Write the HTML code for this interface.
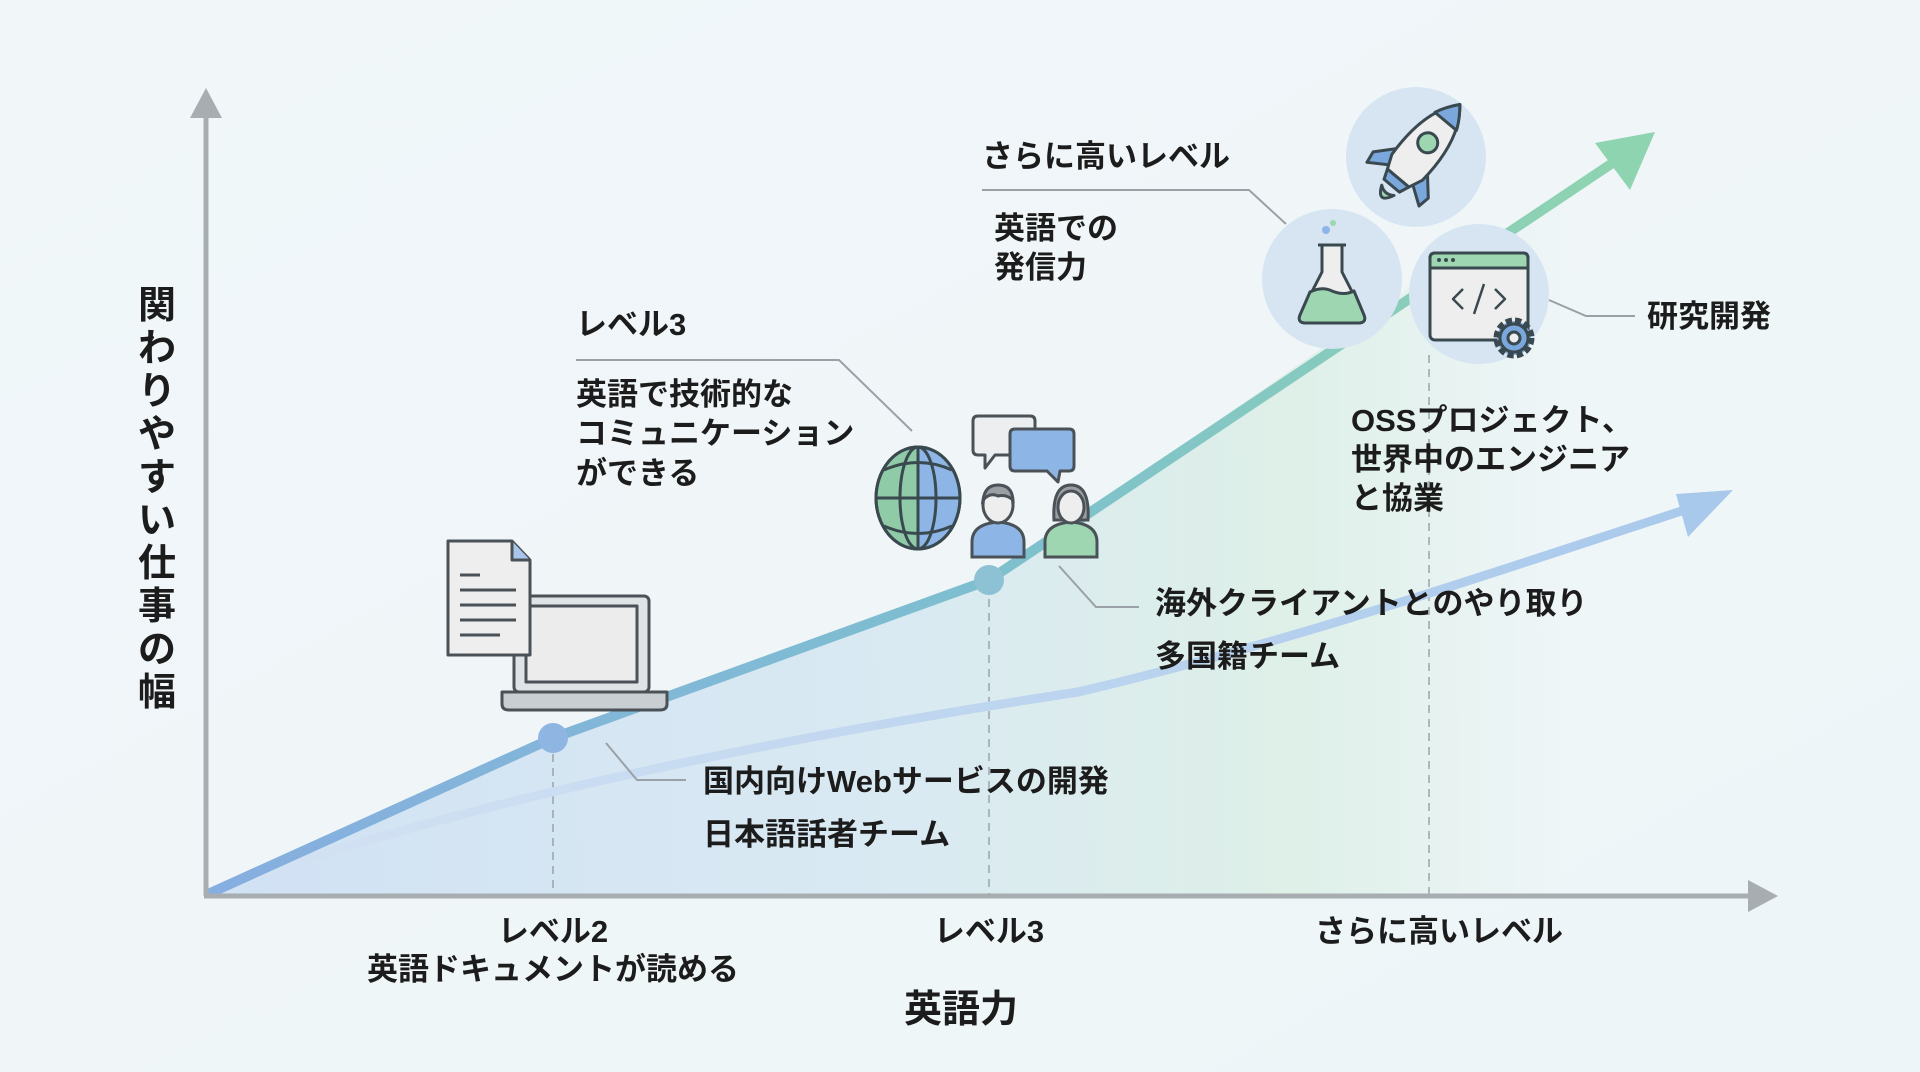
<!DOCTYPE html>
<html><head><meta charset="utf-8"><style>
html,body{margin:0;padding:0;background:#eef5f7;}
svg{display:block}
text{font-family:"Liberation Sans","Noto Sans CJK JP",sans-serif;font-weight:700;fill:#1c1c1c}
</style></head><body>
<svg width="1920" height="1072" viewBox="0 0 1920 1072" xmlns="http://www.w3.org/2000/svg">
<defs>
<linearGradient id="bg" x1="0" y1="0" x2="1" y2="1"><stop offset="0" stop-color="#f1f7f9"/><stop offset="1" stop-color="#eef5f8"/></linearGradient>
<linearGradient id="fill" x1="0" y1="0" x2="1" y2="0"><stop offset="0" stop-color="#cddff3"/><stop offset="0.5" stop-color="#d7e8f2"/><stop offset="0.8" stop-color="#dcefe6"/><stop offset="1" stop-color="#eef5f7"/></linearGradient>
<linearGradient id="main" x1="0" y1="0" x2="1" y2="0"><stop offset="0" stop-color="#86aee0"/><stop offset="0.55" stop-color="#7dbfcf"/><stop offset="1" stop-color="#8fd4b0"/></linearGradient>
<linearGradient id="sec" x1="0" y1="0" x2="1" y2="0"><stop offset="0" stop-color="#d5e3f3"/><stop offset="1" stop-color="#a9c9ec"/></linearGradient>
</defs>
<rect width="1920" height="1072" fill="url(#bg)"/>
<polygon points="208,894 553,738 989,580 1420,280 1560,200 1560,894" fill="url(#fill)" opacity="0.9"/>
<g stroke="#9aa4ab" stroke-width="1.5" stroke-dasharray="8,6">
<line x1="553" y1="740" x2="553" y2="894"/>
<line x1="989" y1="585" x2="989" y2="894"/>
<line x1="1429" y1="355" x2="1429" y2="894"/>
</g>
<path d="M208,894 C400,820 700,750 1078,692 C1300,640 1500,570 1700,505" fill="none" stroke="url(#sec)" stroke-width="9" stroke-linecap="round"/>
<polygon points="1733,490 1688,537 1676,494" fill="#a9c9ec"/>
<polyline points="208,894 553,738 989,580 1620,158" fill="none" stroke="url(#main)" stroke-width="10" stroke-linejoin="round"/>
<polygon points="1655,132 1595,143 1630,190" fill="#8fd4b0"/>
<circle cx="553" cy="738" r="15" fill="#8fb5e3"/>
<circle cx="989" cy="580" r="15" fill="#8cc2d4"/>
<line x1="206" y1="110" x2="206" y2="896" stroke="#a8adb2" stroke-width="5"/>
<polygon points="206,88 190,118 222,118" fill="#a8adb2"/>
<line x1="204" y1="896" x2="1752" y2="896" stroke="#a8adb2" stroke-width="5"/>
<polygon points="1778,896 1748,880 1748,912" fill="#a8adb2"/>
<g fill="none" stroke="#9aa1a6" stroke-width="2">
<polyline points="606,743 637,780 686,780"/>
<polyline points="1059,566 1096,607 1139,607"/>
<polyline points="576,360 839,360 912,431"/>
<polyline points="982,190 1249,190 1286,224"/>
<polyline points="1549,300 1586,316 1635,316"/>
</g>
<g font-size="38">
<text x="157" y="318" text-anchor="middle">関</text>
<text x="157" y="361" text-anchor="middle">わ</text>
<text x="157" y="404" text-anchor="middle">り</text>
<text x="157" y="447" text-anchor="middle">や</text>
<text x="157" y="490" text-anchor="middle">す</text>
<text x="157" y="533" text-anchor="middle">い</text>
<text x="157" y="576" text-anchor="middle">仕</text>
<text x="157" y="619" text-anchor="middle">事</text>
<text x="157" y="662" text-anchor="middle">の</text>
<text x="157" y="705" text-anchor="middle">幅</text>
</g>
<g font-size="31" text-anchor="middle">
<text x="553" y="942">レベル2</text>
<text x="553" y="980">英語ドキュメントが読める</text>
<text x="989" y="942">レベル3</text>
<text x="1439" y="942">さらに高いレベル</text>
</g>
<text x="961" y="1022" font-size="38" text-anchor="middle">英語力</text>
<g font-size="31">
<text x="703" y="792">国内向けWebサービスの開発</text>
<text x="703" y="845">日本語話者チーム</text>
<text x="1155" y="614">海外クライアントとのやり取り</text>
<text x="1155" y="667">多国籍チーム</text>
<text x="576" y="335">レベル3</text>
<text x="576" y="405">英語で技術的な</text>
<text x="576" y="444">コミュニケーション</text>
<text x="576" y="484">ができる</text>
<text x="982" y="167">さらに高いレベル</text>
<text x="994" y="239">英語での</text>
<text x="994" y="278">発信力</text>
<text x="1647" y="327">研究開発</text>
<text x="1351" y="431">OSSプロジェクト、</text>
<text x="1351" y="470">世界中のエンジニア</text>
<text x="1351" y="509">と協業</text>
</g>
<g stroke="#4a5258" stroke-width="3" stroke-linejoin="round">
<rect x="514" y="596" width="135" height="96" rx="5" fill="#dfe3e6"/>
<rect x="526" y="606" width="111" height="76" fill="#ececec"/>
<path d="M502,692 H667 V704 Q667,710 660,710 H509 Q502,710 502,704 Z" fill="#c9ced2"/>
<path d="M448,541 H512 L530,560 V655 H448 Z" fill="#eeeeee"/>
<path d="M512,541 V560 H530" fill="#a9c6ea"/>
<g stroke-width="3"><line x1="460" y1="575" x2="480" y2="575"/><line x1="460" y1="590" x2="516" y2="590"/><line x1="460" y1="605" x2="516" y2="605"/><line x1="460" y1="620" x2="516" y2="620"/><line x1="460" y1="635" x2="500" y2="635"/></g>
</g>
<g stroke="#39494f" stroke-width="3" fill="none">
<path d="M918,447 A42,51 0 0 0 918,549 Z" fill="#8fcba6"/>
<path d="M918,447 A42,51 0 0 1 918,549 Z" fill="#8db5e6"/>
<ellipse cx="918" cy="498" rx="42" ry="51"/>
<ellipse cx="918" cy="498" rx="18" ry="51"/>
<line x1="918" y1="447" x2="918" y2="549"/>
<line x1="876" y1="498" x2="960" y2="498"/>
<path d="M884,470 Q918,455 952,470"/><path d="M884,526 Q918,541 952,526"/>
</g>
<g stroke="#4a5258" stroke-width="3" stroke-linejoin="round">
<path d="M978,416 H1030 Q1035,416 1035,421 V450 Q1035,455 1030,455 H995 L985,468 V455 H978 Q973,455 973,450 V421 Q973,416 978,416 Z" fill="#eceef0"/>
<path d="M1015,429 H1069 Q1074,429 1074,434 V466 Q1074,471 1069,471 H1060 L1058,482 L1047,471 H1015 Q1010,471 1010,466 V434 Q1010,429 1015,429 Z" fill="#8db5e6"/>
</g>
<g stroke="#4a5258" stroke-width="3">
<path d="M972,557 V542 Q972,524 998,522 Q1024,524 1024,542 V557 Z" fill="#8db5e6"/>
<ellipse cx="998" cy="505" rx="15" ry="18" fill="#eeeeee"/>
<path d="M983,500 Q985,485 998,485 Q1012,485 1013,500 Q1006,494 998,496 Q990,492 983,500 Z" fill="#9a9fa3"/>
<path d="M1045,557 V542 Q1045,524 1071,522 Q1097,524 1097,542 V557 Z" fill="#9fd6b2"/>
<path d="M1054,520 Q1052,485 1071,485 Q1090,485 1088,520 Z" fill="#9a9fa3"/>
<ellipse cx="1071" cy="507" rx="13" ry="16" fill="#eeeeee"/>
</g>
<circle cx="1416" cy="157" r="70" fill="#d6e5f1"/>
<circle cx="1332" cy="279" r="70" fill="#d6e5f1"/>
<circle cx="1479" cy="294" r="70" fill="#d6e5f1"/>
<!-- rocket (upright drawn, rotated) -->
<g transform="translate(1420,152) rotate(40)" stroke="#39494f" stroke-width="3" stroke-linejoin="round">
<path d="M-18,10 L-36,30 L-34,42 L-16,30 Z" fill="#7aa7dc"/>
<path d="M18,10 L36,30 L34,42 L16,30 Z" fill="#7aa7dc"/>
<path d="M0,-62 Q-24,-35 -20,20 L-14,34 H14 L20,20 Q24,-35 0,-62 Z" fill="#eeeeee"/>
<path d="M0,-62 Q-10,-50 -14,-40 H14 Q10,-50 0,-62 Z" fill="#7aa7dc"/>
<path d="M-14,34 L-10,44 H10 L14,34 Z" fill="#7aa7dc"/>
<circle cx="0" cy="-12" r="10" fill="#9fd6b2"/>
<path d="M-8,50 Q0,68 8,50 Q0,56 -8,50 Z" fill="#9fd6b2"/>
</g>
<g stroke="#39494f" stroke-width="3" stroke-linejoin="round">
<path d="M1322,245 V272 L1300,315 Q1297,323 1306,323 H1358 Q1367,323 1364,315 L1342,272 V245" fill="#eeeeee"/>
<path d="M1310,292 Q1322,286 1332,291 Q1344,296 1354,291 L1364,315 Q1367,323 1358,323 H1306 Q1297,323 1300,315 Z" fill="#9fd6b2"/>
<line x1="1318" y1="245" x2="1346" y2="245"/>
</g>
<circle cx="1326" cy="230" r="4" fill="#8db5e6"/><circle cx="1333" cy="223" r="3" fill="#9fd6b2"/>
<g stroke="#39494f" stroke-width="3" stroke-linejoin="round">
<rect x="1430" y="253" width="98" height="87" rx="5" fill="#eeeeee"/>
<path d="M1430,268 V258 Q1430,253 1435,253 H1523 Q1528,253 1528,258 V268 Z" fill="#9fd6b2"/>
<path d="M1463,289 L1453,299 L1463,309 M1495,289 L1505,299 L1495,309 M1484,284 L1474,314" fill="none" stroke-width="2.5"/>
<circle cx="1514" cy="338" r="17" fill="#7aa7dc" stroke-dasharray="6,3" stroke-width="7"/>
<circle cx="1514" cy="338" r="14" fill="#7aa7dc"/>
<circle cx="1514" cy="338" r="6" fill="#eeeeee"/>
</g>
<g fill="#39494f"><circle cx="1439" cy="260" r="2"/><circle cx="1446" cy="260" r="2"/><circle cx="1453" cy="260" r="2"/></g>
</svg>
</body></html>
